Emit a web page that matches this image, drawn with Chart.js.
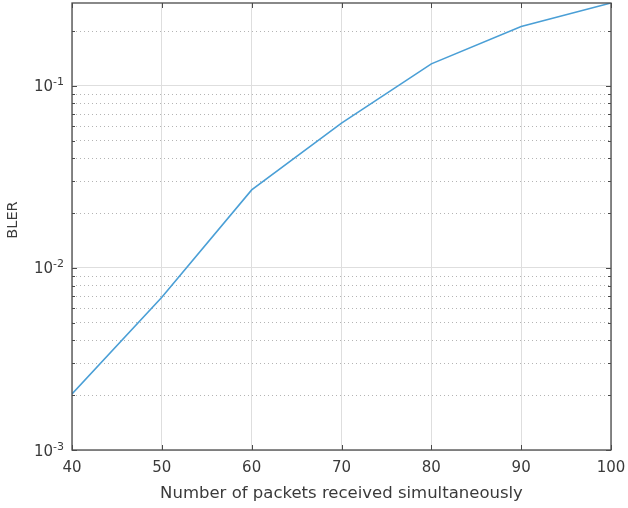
<!DOCTYPE html>
<html>
<head>
<meta charset="utf-8">
<script src="https://cdn.jsdelivr.net/npm/chart.js@4"></script>
<style>
  html, body { margin: 0; padding: 0; background: #ffffff; }
  #wrap { width: 628px; height: 508px; }
</style>
</head>
<body>
<div id="wrap"><canvas id="c" width="628" height="508"></canvas></div>
<script>
// Block error rate versus number of simultaneously received packets
const packets = [40, 50, 60, 70, 80, 90, 100];
const bler = [0.00203, 0.0069, 0.0268, 0.0624, 0.132, 0.212, 0.285];

// Axis ticks
const xTicks = [40, 50, 60, 70, 80, 90, 100];
const decadeExponents = [-3, -2, -1];
const minorMultipliers = [2, 3, 4, 5, 6, 7, 8, 9];
const yMin = 1e-3;
const yMax = 0.285;

const xTitle = 'Number of packets received simultaneously';
const yTitle = 'BLER';

const FONT = 'DejaVu Sans';
const TEXT = '#3a3a3a';
const AXIS = '#4a4a4a';

function isDecade(v) {
  const l = Math.log10(v);
  return Math.abs(l - Math.round(l)) < 1e-9;
}

function logTicks() {
  const out = [];
  decadeExponents.forEach(e => {
    const base = Math.pow(10, e);
    out.push({ value: base, major: true });
    minorMultipliers.forEach(m => {
      const v = m * base;
      if (v <= yMax * 1.0001) out.push({ value: v, major: false });
    });
  });
  return out.filter(t => t.value >= yMin && t.value <= yMax);
}

// Box around the axes, inward tick marks, and the power-of-ten labels
const axesDecor = {
  id: 'axesDecor',
  afterDraw(chart) {
    const { ctx, chartArea: a, scales: { x, y } } = chart;
    ctx.save();
    ctx.strokeStyle = AXIS;
    ctx.lineWidth = 1.3;
    ctx.strokeRect(a.left, a.top, a.right - a.left, a.bottom - a.top);

    ctx.lineWidth = 1;
    ctx.beginPath();
    xTicks.forEach(v => {
      const px = Math.round(x.getPixelForValue(v)) + 0.5;
      ctx.moveTo(px, a.bottom); ctx.lineTo(px, a.bottom - 5);
      ctx.moveTo(px, a.top); ctx.lineTo(px, a.top + 5);
    });
    y.ticks.forEach(t => {
      const py = Math.round(y.getPixelForValue(t.value)) + 0.5;
      const len = isDecade(t.value) ? 5 : 3;
      ctx.moveTo(a.left, py); ctx.lineTo(a.left + len, py);
      ctx.moveTo(a.right, py); ctx.lineTo(a.right - len, py);
    });
    ctx.stroke();

    // y tick labels as 10 with a raised exponent
    ctx.fillStyle = TEXT;
    ctx.textBaseline = 'alphabetic';
    ctx.textAlign = 'left';
    decadeExponents.forEach(e => {
      const v = Math.pow(10, e);
      if (v < yMin || v > yMax) return;
      const py = y.getPixelForValue(v);
      const expText = '-' + Math.abs(e);
      ctx.font = '11px "' + FONT + '"';
      const we = ctx.measureText(expText).width;
      ctx.font = '15px "' + FONT + '"';
      const wb = ctx.measureText('10').width;
      const xEnd = a.left - 8;
      ctx.fillText('10', xEnd - we - wb, py + 5.5);
      ctx.font = '11px "' + FONT + '"';
      ctx.fillText(expText, xEnd - we, py - 0.5);
    });

    // y axis title
    ctx.save();
    ctx.translate(13, 220);
    ctx.rotate(-Math.PI / 2);
    ctx.font = '14.5px "' + FONT + '"';
    ctx.textAlign = 'center';
    ctx.textBaseline = 'middle';
    ctx.fillText(yTitle, 0, 0);
    ctx.restore();
    ctx.restore();
  }
};

new Chart(document.getElementById('c'), {
  type: 'line',
  data: {
    datasets: [{
      data: packets.map((p, i) => ({ x: p, y: bler[i] })),
      borderColor: '#4a9fd6',
      borderWidth: 1.6,
      pointRadius: 0,
      tension: 0,
      fill: false
    }]
  },
  options: {
    responsive: false,
    animation: false,
    devicePixelRatio: 1,
    layout: { padding: { left: 0, right: 17, top: 3, bottom: 0 } },
    plugins: { legend: { display: false }, tooltip: { enabled: false } },
    scales: {
      x: {
        type: 'linear',
        min: 40,
        max: 100,
        afterBuildTicks: s => { s.ticks = xTicks.map(v => ({ value: v })); },
        afterFit: s => { s.height = 58; s.paddingLeft = 0; s.paddingRight = 0; },
        border: { display: false },
        grid: { color: '#dedede', lineWidth: 1, drawTicks: false },
        ticks: {
          color: TEXT,
          font: { family: FONT, size: 15 },
          padding: 9,
          maxRotation: 0,
          autoSkip: false
        },
        title: {
          display: true,
          text: xTitle,
          color: TEXT,
          font: { family: FONT, size: 16.5 },
          padding: { top: 0, bottom: 4 }
        }
      },
      y: {
        type: 'logarithmic',
        min: yMin,
        max: yMax,
        afterBuildTicks: s => { s.ticks = logTicks(); },
        afterFit: s => { s.width = 72; s.paddingTop = 0; s.paddingBottom = 0; },
        border: {
          display: false,
          dash: c => (c.tick && isDecade(c.tick.value)) ? [] : [1, 3]
        },
        grid: {
          drawTicks: false,
          color: c => (c.tick && isDecade(c.tick.value)) ? '#dedede' : '#b4b4b4',
          lineWidth: 1
        },
        ticks: { display: false }
      }
    }
  },
  plugins: [axesDecor]
});
</script>
</body>
</html>
